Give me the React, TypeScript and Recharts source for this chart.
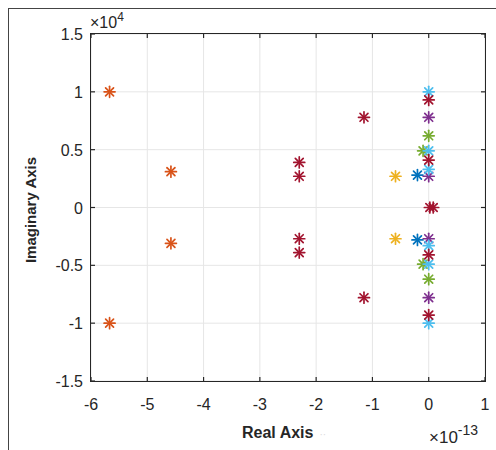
import React from 'react';
import { ScatterChart, Scatter, XAxis, YAxis, CartesianGrid } from 'recharts';

// Values: x in units of 1e-13, y in units of 1e4
const xTicks = [-6, -5, -4, -3, -2, -1, 0, 1];
const yTicks = [-1.5, -1, -0.5, 0, 0.5, 1, 1.5];

const blueX = [-0.2, -0.2];
const blueY = [0.28, -0.28];
const orangeX = [-5.67, -4.58, -4.58, -5.67];
const orangeY = [1.0, 0.31, -0.31, -1.0];
const yellowX = [-0.59, -0.59];
const yellowY = [0.27, -0.27];
const purpleX = [0, 0, 0, 0];
const purpleY = [0.78, 0.27, -0.27, -0.78];
const greenX = [-0.1, 0, 0, -0.1];
const greenY = [0.49, 0.62, -0.62, -0.49];
const cyanX = [0, 0, 0, 0, 0, 0];
const cyanY = [1.0, 0.49, 0.33, -0.33, -0.49, -1.0];
const redX = [-2.3, -2.3, -2.3, -2.3, -1.15, -1.15, 0, 0, 0, 0, 0.02, 0.08];
const redY = [0.39, 0.27, -0.27, -0.39, 0.78, -0.78, 0.93, -0.93, 0.41, -0.41, 0, 0];

const seriesDefs = [
  { name: 's1', xs: blueX, ys: blueY, color: '#0072BD' },
  { name: 's2', xs: orangeX, ys: orangeY, color: '#D95319' },
  { name: 's3', xs: yellowX, ys: yellowY, color: '#EDB120' },
  { name: 's4', xs: purpleX, ys: purpleY, color: '#7E2F8E' },
  { name: 's5', xs: greenX, ys: greenY, color: '#77AC30' },
  { name: 's6', xs: cyanX, ys: cyanY, color: '#4DBEEE' },
  { name: 's7', xs: redX, ys: redY, color: '#A2142F' },
];

const makeStar = (color: string) => (props: any) => {
  const { cx, cy } = props;
  const r = 5.5;
  const d = r * 0.72;
  return (
    <g stroke={color} strokeWidth={1.7} strokeLinecap="round">
      <line x1={cx - r} y1={cy} x2={cx + r} y2={cy} />
      <line x1={cx} y1={cy - r} x2={cx} y2={cy + r} />
      <line x1={cx - d} y1={cy - d} x2={cx + d} y2={cy + d} />
      <line x1={cx - d} y1={cy + d} x2={cx + d} y2={cy - d} />
    </g>
  );
};

const TXT = '#262626';
const FONT = '"Liberation Sans", Arial, sans-serif';

// plot box layout
const PL = 91;
const PT = 34;
const PR = 485;
const PB = 381;
const TICK = 4;

const XTick = (props: any) => {
  const { x, payload } = props;
  return (
    <g>
      <line x1={x} y1={PB} x2={x} y2={PB - TICK} stroke={TXT} strokeWidth={1.2} />
      <line x1={x} y1={PT} x2={x} y2={PT + TICK} stroke={TXT} strokeWidth={1.2} />
      <text x={x} y={PB + 29} textAnchor="middle" fill={TXT} fontSize={16} fontFamily={FONT}>
        {payload.value}
      </text>
    </g>
  );
};

const YTick = (props: any) => {
  const { y, payload } = props;
  return (
    <g>
      <line x1={PL} y1={y} x2={PL + TICK} y2={y} stroke={TXT} strokeWidth={1.2} />
      <line x1={PR} y1={y} x2={PR - TICK} y2={y} stroke={TXT} strokeWidth={1.2} />
      <text x={PL - 8} y={y + 6} textAnchor="end" fill={TXT} fontSize={16} fontFamily={FONT}>
        {payload.value}
      </text>
    </g>
  );
};

export default function App() {
  return (
    <div style={{ position: 'absolute', left: 0, top: 0, width: 496, height: 450, background: '#fff' }}>
      <div
        style={{
          position: 'absolute',
          left: 8,
          top: 8,
          width: 488,
          height: 442,
          borderTop: '1.5px solid #444',
          borderLeft: '1.5px solid #444',
          boxSizing: 'border-box',
        }}
      />
      <ScatterChart
        width={496}
        height={450}
        margin={{ top: PT, right: 496 - PR, bottom: 29, left: 0 }}
        style={{ position: 'absolute', left: 0, top: 0 }}
      >
        <CartesianGrid stroke="#e6e6e6" strokeWidth={1} />
        <XAxis
          type="number"
          dataKey="x"
          domain={[-6, 1]}
          ticks={xTicks}
          interval={0}
          height={450 - 29 - PB}
          axisLine={false}
          tickLine={false}
          tickSize={0}
          tick={<XTick />}
        />
        <YAxis
          type="number"
          dataKey="y"
          domain={[-1.5, 1.5]}
          ticks={yTicks}
          interval={0}
          width={PL}
          axisLine={false}
          tickLine={false}
          tickSize={0}
          tick={<YTick />}
        />
        {seriesDefs.map((s) => (
          <Scatter
            key={s.name}
            name={s.name}
            data={s.xs.map((x, i) => ({ x, y: s.ys[i] }))}
            fill={s.color}
            shape={makeStar(s.color)}
            isAnimationActive={false}
          />
        ))}
      </ScatterChart>
      <div
        style={{
          position: 'absolute',
          left: PL - 0.75,
          top: PT - 0.75,
          width: PR - PL + 1.5,
          height: PB - PT + 1.5,
          border: `1.5px solid ${TXT}`,
          boxSizing: 'border-box',
          pointerEvents: 'none',
        }}
      />
      <div style={{ position: 'absolute', left: 0, top: 0, width: 496, height: 450, pointerEvents: 'none', fontFamily: FONT, color: TXT }}>
        <div style={{ position: 'absolute', left: 90, top: 14, fontSize: 16, lineHeight: '18px', whiteSpace: 'nowrap' }}>
          ×10<span style={{ fontSize: 12, position: 'relative', top: -7 }}>4</span>
        </div>
        <div style={{ position: 'absolute', left: 429, top: 429, fontSize: 17, lineHeight: '18px', whiteSpace: 'nowrap' }}>
          ×10<span style={{ fontSize: 14, position: 'relative', top: -8 }}>-13</span>
        </div>
        <div style={{ position: 'absolute', left: 242, top: 424, fontSize: 16, lineHeight: '18px', fontWeight: 'bold', whiteSpace: 'nowrap' }}>
          Real Axis
          <span style={{ fontWeight: 'normal', color: '#dcdcdc', fontSize: 10, marginLeft: 6 }}>··</span>
        </div>
        <div
          style={{
            position: 'absolute',
            left: 31,
            top: 210,
            fontSize: 15,
            lineHeight: '16px',
            fontWeight: 'bold',
            whiteSpace: 'nowrap',
            transform: 'translate(-50%, -50%) rotate(-90deg)',
          }}
        >
          Imaginary Axis
        </div>
      </div>
    </div>
  );
}
